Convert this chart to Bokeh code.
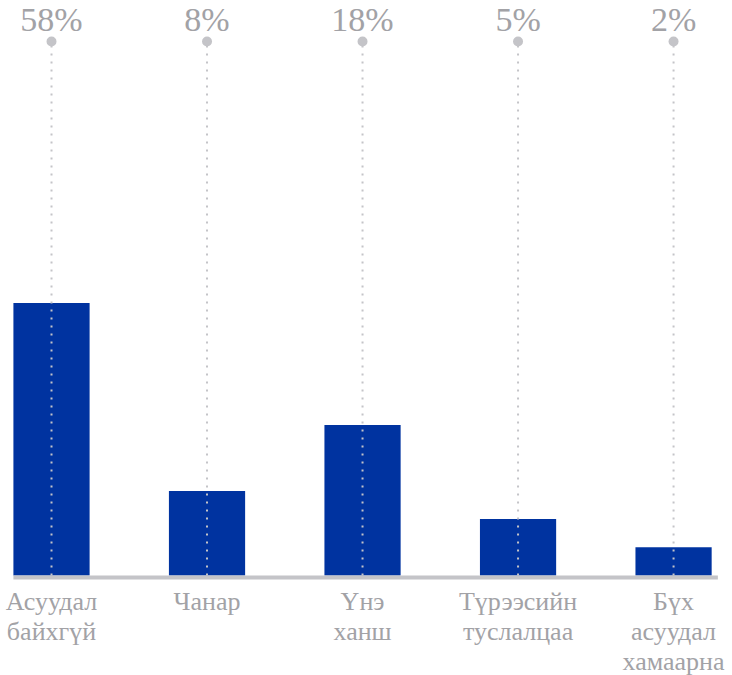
from bokeh.plotting import figure
from bokeh.models import Range1d, ColumnDataSource
from bokeh.core.properties import value
from bokeh.embed import file_html
from bokeh.resources import INLINE

# ---- data ----
categories = ["Асуудал\nбайхгүй", "Чанар", "Үнэ\nханш", "Түрээсийн\nтуслалцаа", "Бүх\nасуудал\nхамаарна"]
bar_values = [58, 18, 32, 12, 6]
pct_labels = ["58%", "8%", "18%", "5%", "2%"]

# ---- layout constants (value units) ----
Y_MIN, Y_MAX = -21.28, 122.34
DOT_Y = 113.6
PCT_Y = 118.4
CAT_Y = -2.45
BAR_W = 0.49

BLUE = "#0033A0"
GRAY_LINE = "#c4c4c8"
GRAY_TEXT = "#a2a2a6"

idx = list(range(len(categories)))
src = ColumnDataSource(dict(
    x=idx,
    top=bar_values,
    cat=categories,
    pct=pct_labels,
    dot_y=[DOT_Y] * len(idx),
    pct_y=[PCT_Y] * len(idx),
    cat_y=[CAT_Y] * len(idx),
    zero=[0] * len(idx),
))

p = figure(width=732, height=675,
           x_range=Range1d(-0.328, 4.379), y_range=Range1d(Y_MIN, Y_MAX),
           output_backend="svg", toolbar_location=None, min_border=0)
p.axis.visible = False
p.grid.visible = False
p.outline_line_color = None
p.background_fill_color = "white"
p.border_fill_color = "white"

# bars
p.vbar(x="x", top="top", bottom=0, width=BAR_W, source=src,
       fill_color=BLUE, line_color=None)

# baseline
p.segment(x0=[idx[0] - BAR_W / 2], y0=[-0.45], x1=[idx[-1] + BAR_W / 2 + 0.04], y1=[-0.45],
          line_color=GRAY_LINE, line_width=4)

# dotted leader lines
p.segment(x0="x", y0="zero", x1="x", y1="dot_y", source=src,
          line_color=GRAY_LINE, line_width=2, line_dash="2 6")

# dots
p.scatter(x="x", y="dot_y", source=src, size=10, marker="circle",
          fill_color=GRAY_LINE, line_color=None)

# percent labels
p.text(x="x", y="pct_y", text="pct", source=src,
       text_font=value("Liberation Serif"), text_font_size="34px",
       text_color=GRAY_TEXT, text_align="center", text_baseline="alphabetic")

# category labels
p.text(x="x", y="cat_y", text="cat", source=src,
       text_font=value("Liberation Serif"), text_font_size="26px",
       text_color=GRAY_TEXT, text_align="center", text_baseline="top",
       text_line_height=1.04)

open("out.html", "w").write(file_html(p, INLINE))
